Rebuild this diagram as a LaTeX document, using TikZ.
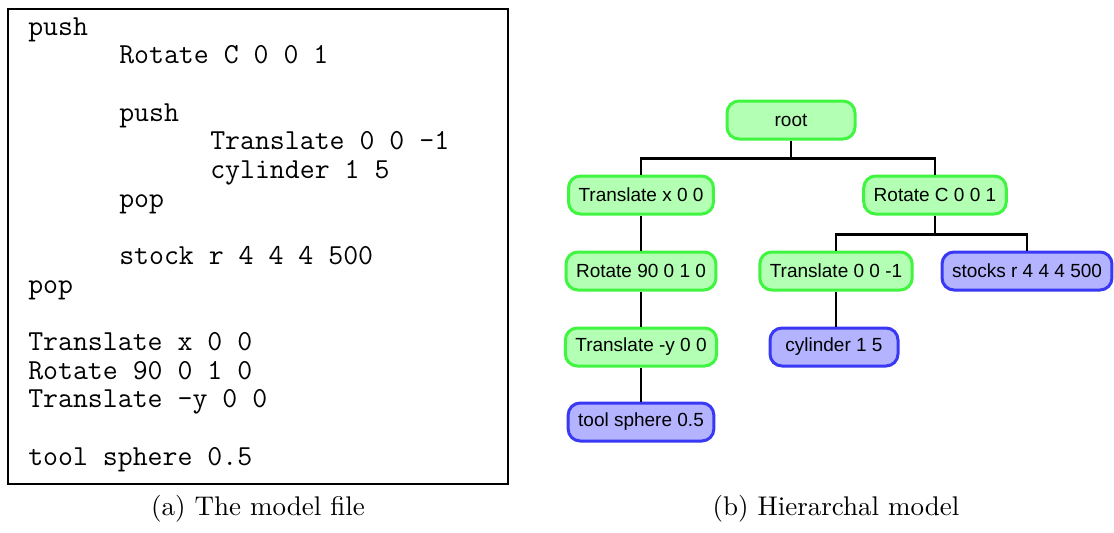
\documentclass[tikz,border=0pt]{standalone}
\usepackage{fontspec}
\usepackage{tikz}
\newfontfamily\treefont{Liberation Sans}
\definecolor{opfill}{RGB}{179,255,179}
\definecolor{opline}{RGB}{64,245,64}
\definecolor{objfill}{RGB}{179,179,255}
\definecolor{objline}{RGB}{56,56,245}

\begin{document}
\begin{tikzpicture}[x=0.4pt, y=-0.4pt, line width=1pt,
  code/.style={anchor=base west, inner sep=0pt, font=\fontsize{11.6}{12}\selectfont\ttfamily},
  subcap/.style={anchor=base, inner sep=0pt, font=\fontsize{10.8}{13}\selectfont},
  tnode/.style={rounded corners=4.8pt, line width=1.2pt, minimum width=51.2pt,
    minimum height=15.2pt, inner xsep=4pt, font=\treefont\fontsize{7.6}{9}\selectfont},
  op/.style={tnode, draw=opline, fill=opfill},
  obj/.style={tnode, draw=objline, fill=objfill}]
\useasboundingbox (0,0) rectangle (1114,533);

% the model file
\draw[line width=0.5pt] (8,9) rectangle (508,484);
\foreach \i/\lvl/\txt in {1/0/push, 2/1/Rotate C 0 0 1, 4/1/push, 5/2/Translate 0 0 -1,
    6/2/cylinder 1 5, 7/1/pop, 9/1/stock r 4 4 4 500, 10/0/pop, 12/0/Translate x 0 0,
    13/0/Rotate 90 0 1 0, 14/0/Translate -y 0 0, 16/0/tool sphere 0.5}
  \node[code] (code\i) at (27+91*\lvl, 35+28.67*\i-28.67) {\txt};
\node[subcap] (capa) at (258,515) {(a) The model file};

% the tree
\node[op] (root) at (791,120) {root};
\node[op] (tx) at (641,195) {Translate x 0 0};
\node[op] (rc) at (935,195) {Rotate C 0 0 1};
\node[op] (r90) at (641,271) {Rotate 90 0 1 0};
\node[op] (t001) at (836,271) {Translate 0 0 -1};
\node[obj] (stocks) at (1027,271) {stocks r 4 4 4 500};
\node[op] (ty) at (641,347) {Translate -y 0 0};
\node[obj] (cyl) at (834,347) {cylinder 1 5};
\node[obj] (tool) at (641,422) {tool sphere 0.5};

\draw (root.south) -- ++(0,18) -| (tx.north);
\draw (root.south) -- ++(0,18) -| (rc.north);
\draw (rc.south) -- ++(0,19) -| (t001.north);
\draw (rc.south) -- ++(0,19) -| (stocks.north);
\draw (tx) -- (r90);
\draw (r90) -- (ty);
\draw (ty) -- (tool);
\draw (t001) -- (t001 |- cyl.north);
\node[subcap] (capb) at (836,515) {(b) Hierarchal model};
\end{tikzpicture}
\end{document}
